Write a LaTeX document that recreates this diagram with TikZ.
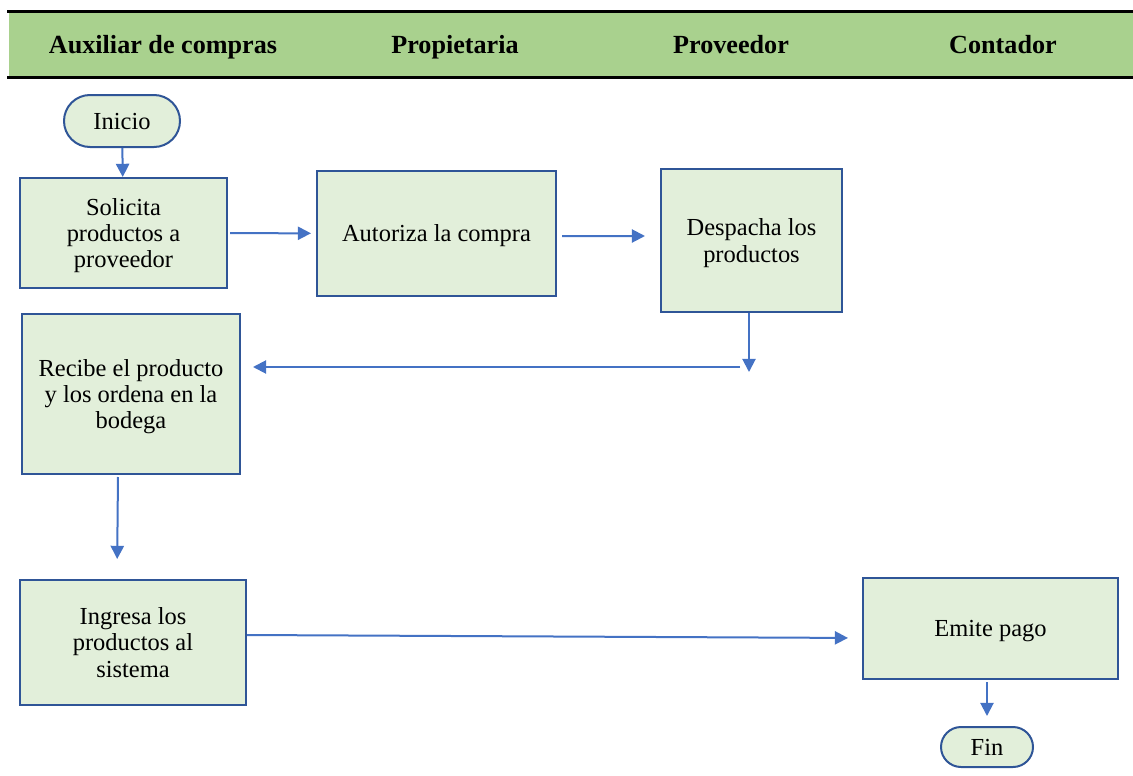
\documentclass[tikz,border=0pt]{standalone}
\usepackage{fontspec}
\setmainfont{Liberation Serif}
\usetikzlibrary{arrows.meta}

\definecolor{verdeCabecera}{HTML}{A9D18E}
\definecolor{verdeCaja}{HTML}{E2EFDA}
\definecolor{bordeAzul}{HTML}{2F5597}
\definecolor{azulFlecha}{HTML}{4472C4}

\newlength{\px}
\setlength{\px}{0.025cm}

\tikzset{
  caja/.style={draw=bordeAzul, fill=verdeCaja, line width=2\px, inner sep=0pt,
    align=center, text depth=0pt, font=\fontsize{17.4}{18.6}\selectfont},
  terminal/.style={caja, rounded corners=#1},
  titulo/.style={anchor=base, font=\bfseries\fontsize{18.6}{20}\selectfont},
  flecha/.style={draw=azulFlecha, line width=2\px,
    -{Triangle[length=0.33cm,width=0.33cm]}},
}

\begin{document}
\begin{tikzpicture}[x=1\px, y=-1\px]
  \useasboundingbox (0,0) rectangle (1133,776);

  % cabecera de carriles
  \fill[verdeCabecera] (9,12) rectangle (1133,76);
  \draw[line width=3\px] (7,11) -- (1133,11);
  \draw[line width=3\px] (7,77) -- (1133,77);
  \node[titulo] (tauxiliar) at (163,53) {Auxiliar de compras};
  \node[titulo] (tpropietaria) at (455,53) {Propietaria};
  \node[titulo] (tproveedor) at (731,53) {Proveedor};
  \node[titulo] (tcontador) at (1003,53) {Contador};

  % pasos
  \node[terminal=0.65cm, minimum width=116\px, minimum height=52\px] (inicio) at (122,121) {Inicio};
  \node[caja, minimum width=207\px, minimum height=110\px] (solicita) at (123.5,233) {Solicita\\ productos a\\ proveedor};
  \node[caja, minimum width=239\px, minimum height=125\px] (autoriza) at (436.5,233.5) {Autoriza la compra};
  \node[caja, minimum width=181\px, minimum height=143\px] (despacha) at (751.5,240.5) {Despacha los\\ productos};
  \node[caja, minimum width=218\px, minimum height=160\px] (recibe) at (131,394) {Recibe el producto\\ y los ordena en la\\ bodega};
  \node[caja, minimum width=226\px, minimum height=125\px] (ingresa) at (133,642.5) {Ingresa los\\ productos al\\ sistema};
  \node[caja, minimum width=255\px, minimum height=101\px] (emite) at (990.5,628.5) {Emite pago};
  \node[terminal=0.5cm, minimum width=92\px, minimum height=40\px] (fin) at (987,747) {Fin};

  \coordinate (bajada) at (749,372);
  \coordinate (giro) at (740,367);

  % conexiones
  \draw[flecha] (inicio) -- (solicita);
  \draw[flecha, shorten <=2\px, shorten >=5\px] (solicita) -- (autoriza);
  \draw[flecha, shorten <=5\px, shorten >=15\px] ([yshift=-2.5\px]autoriza.east) -- ([yshift=4.5\px]despacha.west);
  \draw[flecha] (despacha.south -| bajada) -- (bajada);
  \draw[flecha, shorten >=12\px] (giro) -- (recibe.east |- giro);
  \draw[flecha, shorten <=2\px, shorten >=20\px] ([xshift=-13\px]recibe.south) -- ([xshift=-16\px]ingresa.north);
  \draw[flecha, shorten >=14\px] ([yshift=7.5\px]ingresa.east) -- ([yshift=-9.5\px]emite.west);
  \draw[flecha, shorten <=2\px, shorten >=10\px] (emite.south -| fin) -- (fin);
\end{tikzpicture}
\end{document}
